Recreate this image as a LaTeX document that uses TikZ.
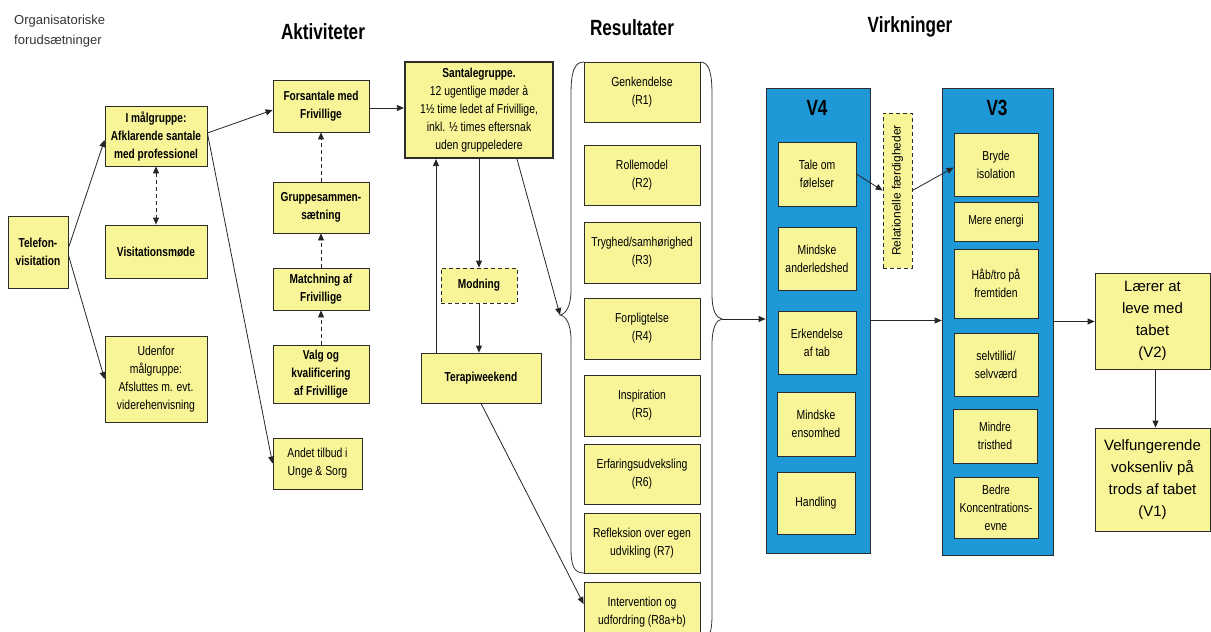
\documentclass[tikz,border=0pt]{standalone}
\usepackage{fontspec}
\setmainfont{Liberation Sans}[FakeStretch=0.8, BoldFeatures={FakeStretch=0.78}]
\newfontfamily\widefont{Liberation Sans}
\usepackage{tikz}
\usetikzlibrary{arrows.meta,calc}
\usepackage{xcolor}
\definecolor{boxyellow}{RGB}{248,244,152}
\definecolor{boxblue}{RGB}{30,152,214}
\definecolor{boxline}{RGB}{45,45,45}
\tikzset{
    wh/.style 2 args={minimum width=#1, minimum height=#2},
    ybox/.style={draw=boxline, fill=boxyellow, line width=0.8pt,
                 inner sep=2pt, align=center,
                 font=\fontsize{13}{18}\selectfont},
    bybox/.style={ybox, font=\fontsize{13}{18}\selectfont\bfseries},
    dbox/.style={#1, dashed, dash pattern=on 4pt off 3pt},
    bigbox/.style={ybox, font=\widefont\fontsize{15}{22}\selectfont},
    blubox/.style={draw=boxline, fill=boxblue, line width=0.8pt},
    title/.style={font=\fontsize{22}{24}\selectfont\bfseries, inner sep=1pt},
    arr/.style={-{Triangle[length=7pt,width=6pt]}, draw=black!85,
                line width=0.8pt},
    dasharr/.style={arr, dashed, dash pattern=on 4pt off 3pt},
    brace/.style={draw=black!80, line width=0.8pt},
}

\begin{document}
\begin{tikzpicture}[x=1pt, y=-1pt]
    \clip (0,0) rectangle (1211,632);

    % headings
    \node[anchor=north west, align=left, text=black!80, inner sep=0pt,
          font=\widefont\fontsize{13}{20}\selectfont] (org) at (14,15)
        {Organisatoriske\\forudsætninger};
    \node[title] (akt) at (323,32) {Aktiviteter};
    \node[title] (res) at (632,28) {Resultater};
    \node[title] (virk) at (910,27) {Virkninger};

    % organisatoriske forudsaetninger
    \node[bybox, wh={60pt}{72pt}] (tel) at (38,252) {Telefon-\\visitation};
    \node[bybox, wh={102pt}{60pt}] (maal) at (156,136)
        {I målgruppe:\\Afklarende santale\\med professionel};
    \node[bybox, wh={102pt}{53pt}] (visit) at (156,251.5) {Visitationsmøde};
    \node[ybox, wh={102pt}{86pt}] (uden) at (156,379)
        {Udenfor\\målgruppe:\\Afsluttes m. evt.\\viderehenvisning};

    % aktiviteter
    \node[bybox, wh={96pt}{52pt}] (fors) at (321,106) {Forsantale med\\Frivillige};
    \node[bybox, wh={96pt}{51pt}] (grup) at (321,207.5) {Gruppesammen-\\sætning};
    \node[bybox, wh={96pt}{42pt}] (match) at (321,289) {Matchning af\\Frivillige};
    \node[bybox, wh={96pt}{58pt}] (valg) at (321,374)
        {Valg og\\kvalificering\\af Frivillige};
    \node[ybox, wh={89pt}{51pt}] (andet) at (317.5,463.5) {Andet tilbud i\\Unge \& Sorg};
    \node[ybox, wh={148pt}{96pt}, line width=2.2pt] (sant) at (479,110)
        {\textbf{Santalegruppe.}\\12 ugentlige møder à\\1½ time ledet af Frivillige,\\inkl. ½ times eftersnak\\uden gruppeledere};
    \node[dbox=bybox, wh={76pt}{35pt}] (modn) at (479,285.5) {Modning};
    \node[bybox, wh={120pt}{50pt}] (terapi) at (481,378) {Terapiweekend};

    % resultater
    \node[ybox, wh={116pt}{60pt}] (r1) at (642,92) {Genkendelse\\(R1)};
    \node[ybox, wh={116pt}{60pt}] (r2) at (642,175) {Rollemodel\\(R2)};
    \node[ybox, wh={116pt}{61pt}] (r3) at (642,252.5) {Tryghed/samhørighed\\(R3)};
    \node[ybox, wh={116pt}{61pt}] (r4) at (642,328.5) {Forpligtelse\\(R4)};
    \node[ybox, wh={116pt}{61pt}] (r5) at (642,405.5) {Inspiration\\(R5)};
    \node[ybox, wh={116pt}{60pt}] (r6) at (642,474) {Erfaringsudveksling\\(R6)};
    \node[ybox, wh={116pt}{60pt}] (r7) at (642,543) {Refleksion over egen\\udvikling (R7)};
    \node[ybox, wh={116pt}{60pt}] (r8) at (642,612) {Intervention og\\udfordring (R8a+b)};

    \coordinate (ltip) at (560,315);
    \coordinate (rtip) at (722,319);
    \draw[brace] (584,62) .. controls (574,62) and (571,72) .. (571,95)
        -- (571,290) .. controls (571,306) and (566,314) .. (ltip)
        .. controls (566,316) and (571,324) .. (571,340)
        -- (571,548) .. controls (571,566) and (574,573) .. (584,573);
    \draw[brace] (700,62) .. controls (709,62) and (712,72) .. (712,95)
        -- (712,295) .. controls (712,310) and (716,318) .. (rtip)
        .. controls (716,320) and (712,328) .. (712,345)
        -- (712,615) .. controls (712,635) and (708,642) .. (700,642);

    % virkninger
    \node[blubox, wh={104pt}{465pt}] (v4) at (818,320.5) {};
    \node[title] (v4lab) at (817,108) {V4};
    \node[ybox, wh={78pt}{64pt}] (tale) at (817,174) {Tale om\\følelser};
    \node[ybox, wh={78pt}{63pt}] (mand) at (817,258.5) {Mindske\\anderledshed};
    \node[ybox, wh={78pt}{63pt}] (erk) at (817,342.5) {Erkendelse\\af tab};
    \node[ybox, wh={78pt}{64pt}] (ens) at (816,424) {Mindske\\ensomhed};
    \node[ybox, wh={78pt}{62pt}] (hand) at (816,503) {Handling};

    \node[dbox=ybox, wh={29pt}{155pt}, inner sep=0pt,
          font=\widefont\fontsize{12}{14}\selectfont] (rel) at (897.5,190.5)
        {\rotatebox{90}{Relationelle færdigheder}};

    \node[blubox, wh={111pt}{467pt}] (v3) at (997.5,321.5) {};
    \node[title] (v3lab) at (997,108) {V3};
    \node[ybox, wh={84pt}{63pt}] (bryde) at (996,164.5) {Bryde\\isolation};
    \node[ybox, wh={84pt}{39pt}] (energi) at (996,221.5) {Mere energi};
    \node[ybox, wh={84pt}{69pt}] (haab) at (996,283.5) {Håb/tro på\\fremtiden};
    \node[ybox, wh={84pt}{63pt}] (selv) at (996,364.5) {selvtillid/\\selvværd};
    \node[ybox, wh={84pt}{54pt}] (trist) at (995,436) {Mindre\\tristhed};
    \node[ybox, wh={84pt}{61pt}] (bedre) at (996,507.5)
        {Bedre\\Koncentrations-\\evne};

    \node[bigbox, wh={115pt}{96pt}] (laerer) at (1152.5,321)
        {Lærer at\\leve med\\tabet\\(V2)};
    \node[bigbox, wh={115pt}{103pt}] (velf) at (1152.5,479.5)
        {Velfungerende\\voksenliv på\\trods af tabet\\(V1)};

    % forbindelser
    \draw[arr] ([yshift=4pt]tel.east) -- ([yshift=-4pt]maal.west);
    \draw[arr] ([yshift=-3pt]tel.east) -- (uden.west);
    \draw[arr] ([yshift=3pt]maal.east) -- ([yshift=-4pt]fors.west);
    \draw[arr] ([yshift=3pt]maal.east) -- (andet.west);
    \draw[dasharr, {Triangle[length=7pt,width=6pt]}-{Triangle[length=7pt,width=6pt]}]
        (maal.south) -- (visit.north);
    \draw[dasharr] (valg.north) -- (match.south);
    \draw[dasharr] (match.north) -- (grup.south);
    \draw[dasharr] (grup.north) -- (fors.south);
    \draw[arr] ([yshift=-2pt]fors.east) -- ([yshift=-2pt]fors.east -| sant.west);
    \draw[arr] (sant.south) -- (modn.north);
    \draw[arr] (modn.south) -- (modn.south |- terapi.north);
    \draw[arr] ([xshift=-45pt]terapi.north) -- ([xshift=-45pt]terapi.north |- sant.south);
    \draw[arr] ([xshift=38pt]sant.south) -- (ltip);
    \draw[arr] (terapi.south) -- ([yshift=8pt]r8.west);
    \draw[arr] (rtip) -- (rtip -| v4.west);
    \draw[arr] (tale.east) -- (rel.west);
    \draw[arr] (rel.east) -- ([yshift=-3pt]bryde.west);
    \draw[arr] (v4.east) -- (v4.east -| v3.west);
    \draw[arr] (v3.east) -- (v3.east -| laerer.west);
    \draw[arr] ([xshift=3pt]laerer.south) -- ([xshift=3pt]velf.north);
\end{tikzpicture}
\end{document}
